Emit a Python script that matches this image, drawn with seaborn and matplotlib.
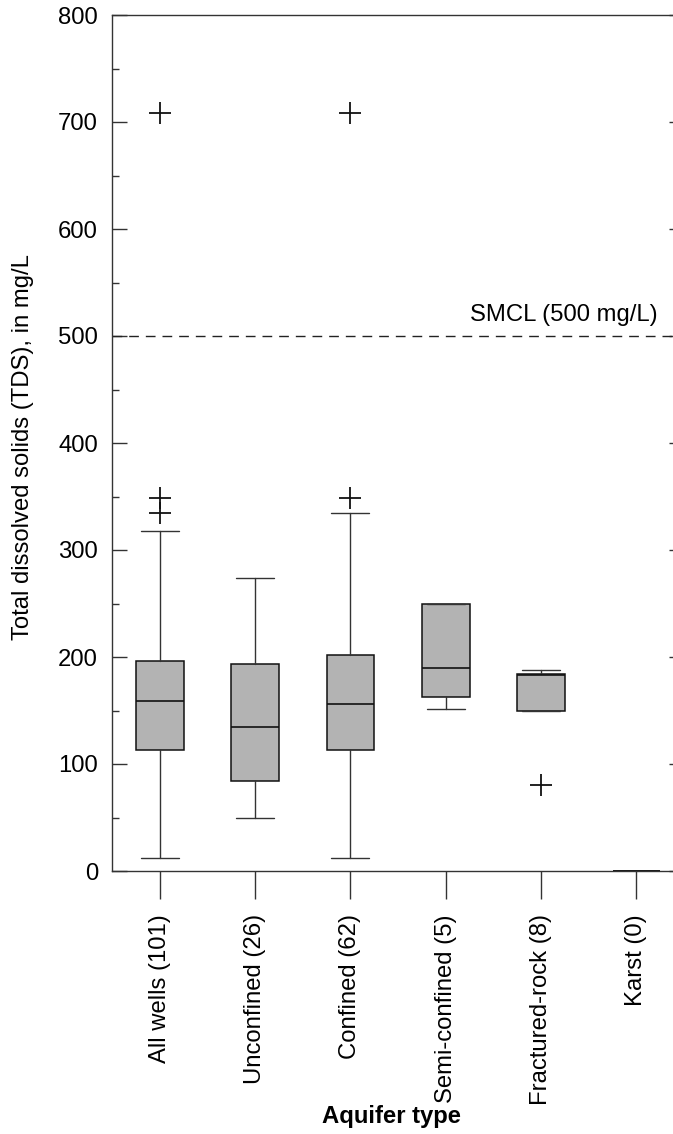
import matplotlib
matplotlib.use("Agg")
import matplotlib.pyplot as plt
from matplotlib.ticker import MultipleLocator
import seaborn as sns

sns.set_theme(style="ticks")
plt.rcParams['font.family'] = ['Liberation Sans', 'DejaVu Sans']
plt.rcParams['text.color'] = 'black'
plt.rcParams['xtick.color'] = '#333333'
plt.rcParams['ytick.color'] = '#333333'
plt.rcParams['xtick.labelcolor'] = 'black'
plt.rcParams['ytick.labelcolor'] = 'black'

# ---- data ----
categories = ["All wells (101)", "Unconfined (26)", "Confined (62)",
              "Semi-confined (5)", "Fractured-rock (8)", "Karst (0)"]
whisker_low = [12, 50, 12, 151, 150, 0]
q1 = [113, 84, 113, 163, 150, 0]
median = [159, 135, 156, 190, 183, 0]
q3 = [196, 193, 202, 250, 184, 0]
whisker_high = [318, 274, 335, 250, 188, 0]
outliers = [[335, 349, 708], [], [349, 708], [], [80], []]
smcl_value = 500
smcl_label = "SMCL (500 mg/L)"
y_label = "Total dissolved solids (TDS), in mg/L"
x_label = "Aquifer type"

FS = 17.2

stats = []
for i, name in enumerate(categories):
    stats.append(dict(label=name, whislo=whisker_low[i], q1=q1[i], med=median[i],
                      q3=q3[i], whishi=whisker_high[i], fliers=outliers[i]))

fig = plt.figure(figsize=(6.73, 11.34), dpi=100)
ax = fig.add_axes([112/673, 1-871/1134, 572/673, 856/1134])

line_col = "#111111"
ax.bxp(stats, positions=range(len(categories)), widths=0.5, capwidths=0.4,
       patch_artist=True, manage_ticks=False,
       boxprops=dict(facecolor="#b3b3b3", edgecolor=line_col, linewidth=1.1),
       medianprops=dict(color=line_col, linewidth=1.2),
       whiskerprops=dict(color="#333333", linewidth=1.0),
       capprops=dict(color="#333333", linewidth=1.0),
       flierprops=dict(marker="+", markersize=16, markeredgewidth=1.3,
                       markeredgecolor=line_col, linestyle="none"))

ax.axhline(smcl_value, color="#222222", linewidth=1.0, linestyle=(0, (7, 5)), zorder=1)
ax.text(5.22, smcl_value + 9, smcl_label, ha="right", va="bottom", fontsize=FS, color="black")

ax.set_xlim(-0.5, 5.5)
ax.set_ylim(0, 800)
ax.set_xticks(range(len(categories)))
ax.set_xticklabels(categories, rotation=90, fontsize=FS)
ax.yaxis.set_major_locator(MultipleLocator(100))
ax.yaxis.set_minor_locator(MultipleLocator(50))
ax.tick_params(axis="y", which="major", direction="in", length=10.8, width=1,
               left=True, right=True, labelsize=FS, pad=10)
ax.tick_params(axis="y", which="minor", direction="in", length=5, width=1,
               left=True, right=True)
ax.tick_params(axis="x", which="major", direction="out", length=20, width=1,
               bottom=True, top=False, pad=11)
ax.tick_params(axis="x", which="minor", bottom=False, top=False)

for side in ["left", "bottom", "top"]:
    ax.spines[side].set_visible(True)
    ax.spines[side].set_color("#333333")
    ax.spines[side].set_linewidth(1.0)
ax.spines["right"].set_visible(False)
ax.grid(False)
ax.set_facecolor("white")

fig.text(23/673, 1-447/1134, y_label, rotation=90, ha="center", va="center", fontsize=FS)
fig.text(392/673, 1-1117/1134, x_label, ha="center", va="center", fontsize=FS, fontweight="bold")

fig.savefig("out.png", dpi=100, facecolor="white")
